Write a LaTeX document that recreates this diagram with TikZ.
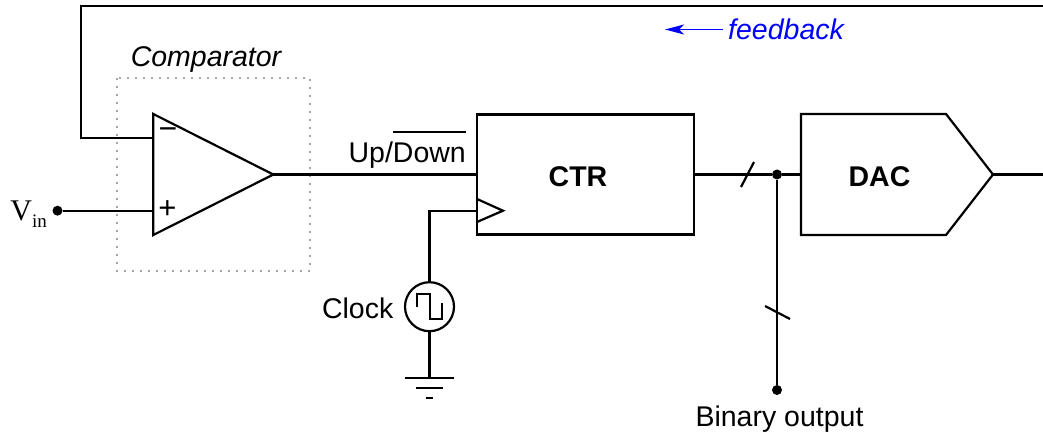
\documentclass[tikz,border=0pt]{standalone}
\usepackage{fontspec}
\setmainfont{Liberation Sans}
\newfontfamily\vinfont{Liberation Serif}
\usetikzlibrary{arrows.meta}
\newsavebox\myovlbox
\newcommand\myovl[1]{\sbox\myovlbox{#1}\rlap{\rule[30pt]{\wd\myovlbox}{1.6pt}}\usebox\myovlbox}
\begin{document}
\begin{tikzpicture}[x=1pt,y=-1pt,
  wire/.style={line width=2.2pt, line cap=butt, line join=miter},
  lbl/.style={font=\fontsize{28.5}{32}\selectfont, inner sep=0pt},
  blk/.style={font=\bfseries\fontsize{28.5}{32}\selectfont, inner sep=0pt},
  dotbox/.style={draw=gray!70, line width=1.6pt, dash pattern=on 1.6pt off 6.4pt},
  jdot/.style={circle, fill=black, inner sep=0pt, minimum size=10pt},
  fb/.style={blue, line width=1.6pt}]
\useasboundingbox (0,0) rectangle (1043,435);
\clip (0,0) rectangle (1043,435);
% comparator
\coordinate (oaTL) at (153.3,114);
\coordinate (oaBL) at (153.3,235);
\coordinate (oaOut) at (273.3,174.5);
\coordinate (inM) at (153.3,138.3);
\coordinate (inP) at (153.3,210.7);
\draw[wire] (oaTL) -- (oaOut) -- (oaBL) -- cycle;
\node[lbl, font=\fontsize{32}{34}\selectfont] (minus) at (168,134) {−};
\node[lbl, font=\fontsize{31}{34}\selectfont] (plus) at (167.5,209.5) {+};
\draw[dotbox] (117,78) rectangle (310,271);
\node[lbl, font=\itshape\fontsize{28.5}{32}\selectfont, anchor=base] (cmp) at (206,66.7) {Comparator};
% Vin
\node[jdot] (vindot) at (57.5,210.7) {};
\draw[wire] (vindot) -- (inP);
\node[inner sep=0pt, anchor=base east, font=\vinfont\fontsize{30}{32}\selectfont] (vin) at (47,221) {V\raisebox{-7pt}{\fontsize{19}{20}\selectfont in}};
% feedback loop
\coordinate (fbL) at (81,138.3);
\coordinate (fbTL) at (81,6);
\coordinate (fbTR) at (1060,6);
\coordinate (fbR) at (1060,174.5);
% counter
\node[draw, line width=2.2pt, minimum width=217pt, minimum height=120pt, inner sep=0pt] (ctr) at (585.5,174.5) {};
\node[blk] (ctrtxt) at (578,177) {CTR};
\draw[wire] (oaOut) -- (ctr.west);
\node[lbl, anchor=base east] (ud) at (466,163) {Up/\myovl{Down}};
\coordinate (clkA) at (477,199);
\coordinate (clkB) at (503,210.7);
\coordinate (clkC) at (477,222);
\coordinate (clkIn) at (477,210.7);
\draw[wire] (clkA) -- (clkB) -- (clkC);
% clock source
\node[draw, circle, line width=2.2pt, minimum size=49pt, inner sep=0pt] (clk) at (429.5,306.7) {};
\draw[line width=2.2pt, line join=miter] (416.7,306.7) -- (416.7,294) -- (430,294) -- (430,319) -- (442.3,319) -- (442.3,303);
\draw[wire] (clkIn) -- (clk.north |- clkIn) -- (clk.north);
\node[lbl, anchor=base east] (clktxt) at (393.5,318) {Clock};
\coordinate (gnd) at (429.5,378);
\draw[wire] (clk.south) -- (gnd);
\draw[wire] ([xshift=-24.5pt]gnd) -- ([xshift=24.5pt]gnd);
\draw[wire] ([xshift=-13.5pt,yshift=-10pt]gnd) -- ([xshift=13.5pt,yshift=-10pt]gnd);
\draw[wire] ([xshift=-3.5pt,yshift=-20pt]gnd) -- ([xshift=3.5pt,yshift=-20pt]gnd);
% DAC
\coordinate (dacTL) at (801,114);
\coordinate (dacTR) at (946,114);
\coordinate (dacOut) at (993,174.5);
\coordinate (dacBR) at (946,235);
\coordinate (dacBL) at (801,235);
\coordinate (dacIn) at (801,174.5);
\draw[wire] (dacTL) -- (dacTR) -- (dacOut) -- (dacBR) -- (dacBL) -- cycle;
\node[blk] (dactxt) at (879.5,176.5) {DAC};
\node[jdot] (jn) at (777,174.5) {};
\draw[wire] (ctr.east) -- (jn) -- (dacIn);
\draw[wire] (741,187) -- (754,162);
\node[jdot] (bo) at (777,390) {};
\draw[wire] (jn) -- (bo);
\draw[wire] (765,306) -- (790,319);
\node[lbl, anchor=base] (botxt) at (779.5,426.7) {Binary output};
% feedback wire
\draw[wire] (dacOut) -- (fbR) -- (fbTR) -- (fbTL) -- (fbL) -- (inM);
\coordinate (fbA) at (723,29.5);
\coordinate (fbB) at (665,29.5);
\draw[fb, -{Stealth[length=19pt,width=10pt,inset=5pt]}] (fbA) -- (fbB);
\node[lbl, blue, font=\itshape\fontsize{28.5}{32}\selectfont, anchor=base west] (fbtxt) at (728,40) {feedback};
\end{tikzpicture}
\end{document}
